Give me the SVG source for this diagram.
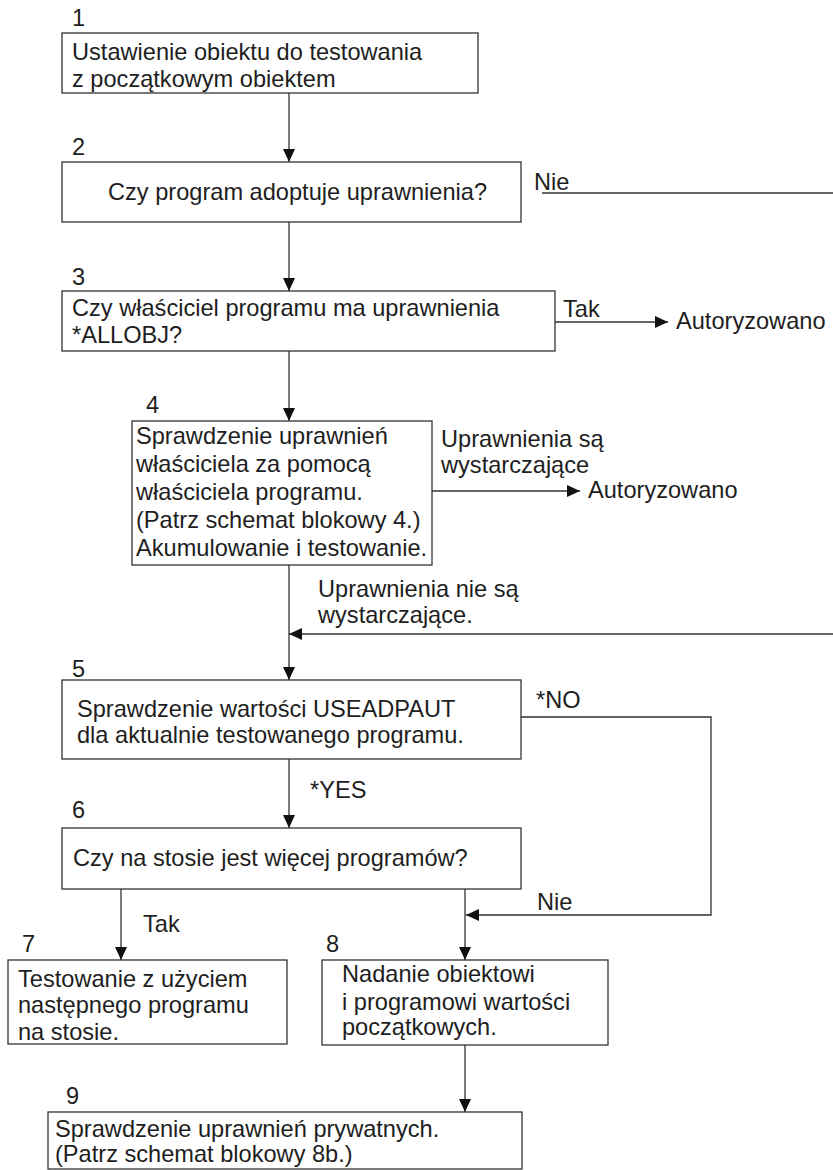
<svg xmlns="http://www.w3.org/2000/svg" width="833" height="1170" viewBox="0 0 833 1170">
  <style>
    .box { fill: #ffffff; stroke: #333333; stroke-width: 1.3; }
    .t { font-family: "Liberation Sans", Arial, sans-serif; font-size: 23.6px; fill: #1e1e1e; }
    .c { fill: none; stroke: #333333; stroke-width: 1.3; }
  </style>
  <defs>
    <marker id="arrow" markerUnits="userSpaceOnUse" markerWidth="14" markerHeight="14" viewBox="0 0 14 12" refX="13" refY="6" orient="auto">
      <path d="M0,0 L13,6 L0,12 Z" fill="#111111"/>
    </marker>
  </defs>
  <rect width="833" height="1170" fill="#ffffff"/>

  <!-- connectors -->
  <g id="connectors">
    <path class="c" d="M289,93 V162" marker-end="url(#arrow)"/>
    <path class="c" d="M289,222 V291" marker-end="url(#arrow)"/>
    <path class="c" d="M289,351 V421" marker-end="url(#arrow)"/>
    <path class="c" d="M289,565 V680" marker-end="url(#arrow)"/>
    <path class="c" d="M289,759 V828" marker-end="url(#arrow)"/>
    <path class="c" d="M121,889 V960" marker-end="url(#arrow)"/>
    <path class="c" d="M465,889 V960" marker-end="url(#arrow)"/>
    <path class="c" d="M465,1045 V1112" marker-end="url(#arrow)"/>
    <!-- box 2 "Nie" exit, continues off to the right -->
    <path class="c" d="M542,193 H833"/>
    <!-- return from the right into the main flow -->
    <path class="c" d="M833,634 H289" marker-end="url(#arrow)"/>
    <!-- *ALLOBJ yes -->
    <path class="c" d="M555,322 H668" marker-end="url(#arrow)"/>
    <!-- sufficient authority -->
    <path class="c" d="M432,491 H580" marker-end="url(#arrow)"/>
    <!-- *NO loop to box 8 -->
    <path class="c" d="M521,717 H711 V915 H466" marker-end="url(#arrow)"/>

    <text class="t" x="534" y="190">Nie</text>
    <text class="t" x="563" y="317">Tak</text>
    <text class="t" x="676" y="329">Autoryzowano</text>
    <text class="t" x="441" y="447">Uprawnienia są</text>
    <text class="t" x="441" y="473">wystarczające</text>
    <text class="t" x="588" y="498">Autoryzowano</text>
    <text class="t" x="318" y="597">Uprawnienia nie są</text>
    <text class="t" x="318" y="623">wystarczające.</text>
    <text class="t" x="536" y="708">*NO</text>
    <text class="t" x="537" y="910">Nie</text>
    <text class="t" x="310" y="798">*YES</text>
    <text class="t" x="143" y="932">Tak</text>
  </g>

  <!-- step 1 -->
  <g id="node1">
    <text class="t" x="72" y="26">1</text>
    <rect class="box" x="62" y="33" width="416" height="60"/>
    <text class="t" x="72" y="60">Ustawienie obiektu do testowania</text>
    <text class="t" x="72" y="87">z początkowym obiektem</text>
  </g>

  <!-- step 2 -->
  <g id="node2">
    <text class="t" x="72" y="155">2</text>
    <rect class="box" x="62" y="162" width="459" height="60"/>
    <text class="t" x="108" y="200">Czy program adoptuje uprawnienia?</text>
  </g>

  <!-- step 3 -->
  <g id="node3">
    <text class="t" x="72" y="285">3</text>
    <rect class="box" x="62" y="291" width="493" height="60"/>
    <text class="t" x="72" y="316">Czy właściciel programu ma uprawnienia</text>
    <text class="t" x="72" y="343">*ALLOBJ?</text>
  </g>

  <!-- step 4 -->
  <g id="node4">
    <text class="t" x="146" y="413">4</text>
    <rect class="box" x="132" y="421" width="300" height="144"/>
    <text class="t" x="136" y="444">Sprawdzenie uprawnień</text>
    <text class="t" x="136" y="472">właściciela za pomocą</text>
    <text class="t" x="136" y="500">właściciela programu.</text>
    <text class="t" x="136" y="528">(Patrz schemat blokowy 4.)</text>
    <text class="t" x="136" y="556">Akumulowanie i testowanie.</text>
  </g>

  <!-- step 5 -->
  <g id="node5">
    <text class="t" x="72" y="677">5</text>
    <rect class="box" x="62" y="680" width="459" height="79"/>
    <text class="t" x="77" y="717">Sprawdzenie wartości USEADPAUT</text>
    <text class="t" x="77" y="743">dla aktualnie testowanego programu.</text>
  </g>

  <!-- step 6 -->
  <g id="node6">
    <text class="t" x="72" y="818">6</text>
    <rect class="box" x="62" y="828" width="459" height="61"/>
    <text class="t" x="73" y="866">Czy na stosie jest więcej programów?</text>
  </g>

  <!-- step 7 -->
  <g id="node7">
    <text class="t" x="22" y="952">7</text>
    <rect class="box" x="8" y="960" width="279" height="84"/>
    <text class="t" x="18" y="987">Testowanie z użyciem</text>
    <text class="t" x="18" y="1013">następnego programu</text>
    <text class="t" x="18" y="1040">na stosie.</text>
  </g>

  <!-- step 8 -->
  <g id="node8">
    <text class="t" x="326" y="952">8</text>
    <rect class="box" x="322" y="960" width="286" height="85"/>
    <text class="t" x="342" y="982">Nadanie obiektowi</text>
    <text class="t" x="342" y="1010">i programowi wartości</text>
    <text class="t" x="342" y="1035">początkowych.</text>
  </g>

  <!-- step 9 -->
  <g id="node9">
    <text class="t" x="66" y="1104">9</text>
    <rect class="box" x="48" y="1112" width="474" height="57"/>
    <text class="t" x="55" y="1137">Sprawdzenie uprawnień prywatnych.</text>
    <text class="t" x="55" y="1162">(Patrz schemat blokowy 8b.)</text>
  </g>
</svg>
